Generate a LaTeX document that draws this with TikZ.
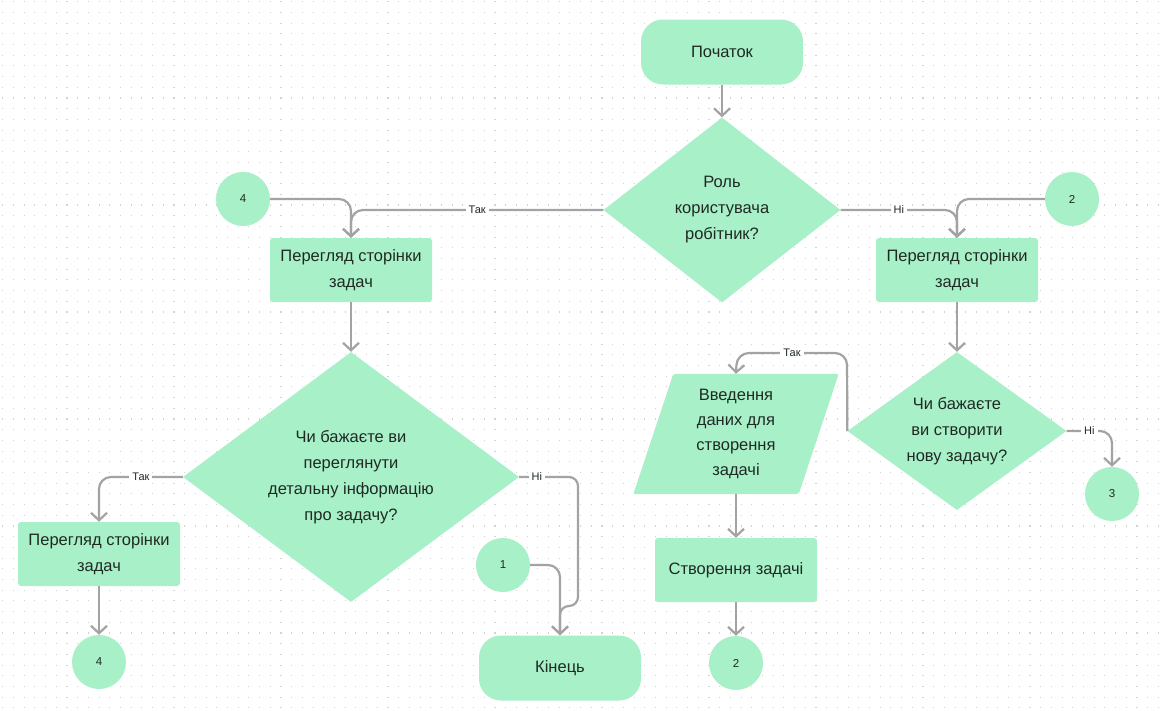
\documentclass[tikz,border=0pt]{standalone}
\usepackage{fontspec}
\setmainfont{Liberation Sans}
\usetikzlibrary{arrows.meta,shapes.geometric}
\definecolor{fillg}{HTML}{A8F0C8}
\definecolor{txt}{HTML}{1F2A24}
\definecolor{con}{HTML}{A3A3A3}
\definecolor{dotc}{HTML}{D2D2D2}
\pgfdeclarelayer{grid}
\pgfdeclarelayer{shape}
\pgfsetlayers{grid,shape,main}
\tikzset{
  box/.style={rectangle, fill=fillg, rounded corners=3pt, minimum width=162pt, minimum height=64pt,
    align=center, inner sep=2pt, font=\fontsize{16.5}{26}\selectfont, text=txt},
  term/.style={box, rounded corners=22pt, minimum height=65pt},
  dec/.style={diamond, fill=fillg, align=center, inner sep=0pt, font=\fontsize{16.5}{26}\selectfont, text=txt},
  conn/.style={circle, fill=fillg, minimum size=54pt, inner sep=0pt, font=\fontsize{11.5}{13}\selectfont, text=txt},
  paratext/.style={rectangle, minimum width=165pt, minimum height=120pt, align=center, inner sep=0pt,
    font=\fontsize{16.5}{25}\selectfont, text=txt},
  link/.style={draw=con, line width=2.2pt, rounded corners=12pt, -{Straight Barb[length=7.5pt,width=16pt]}},
  lbl/.style={fill=white, inner sep=3pt, font=\fontsize{11}{12}\selectfont, text=txt, rounded corners=0pt}
}
\begin{document}
\begin{tikzpicture}[x=1pt,y=-1pt]
\useasboundingbox (0,0) rectangle (1160,710);
\begin{pgfonlayer}{grid}
\fill[white] (0,0) rectangle (1160,710);
\foreach \k in {0,...,66}
  \draw[dotc, line width=1.1pt, dash pattern=on 1.1pt off 9.6pt] (2.2,{1.7+10.7*\k}) -- (1160,{1.7+10.7*\k});
\end{pgfonlayer}

% nodes
\node[term] (start) at (722,52) {Початок};
\node[dec, minimum width=237pt, minimum height=185pt, aspect=1.28] (d1) at (722,210) {Роль\\користувача\\робітник?};
\node[conn] (c4a) at (243,199) {4};
\node[box] (b1) at (351,270) {Перегляд сторінки\\задач};
\node[dec, minimum width=336pt, minimum height=250pt, aspect=1.34] (d2) at (351,477) {Чи бажаєте ви\\переглянути\\детальну інформацію\\про задачу?};
\node[box] (b4) at (99,554) {Перегляд сторінки\\задач};
\node[conn] (c4b) at (99,662) {4};
\node[conn] (c1) at (503,565) {1};
\node[term] (end) at (560,668) {Кінець};
\node[conn] (c2a) at (1072,199) {2};
\node[box] (b2) at (957,270) {Перегляд сторінки\\задач};
\node[dec, minimum width=219pt, minimum height=158pt, aspect=1.386] (d3) at (957,431) {Чи бажаєте\\ви створити\\нову задачу?};
\node[conn] (c3) at (1112,494) {3};
\node[paratext] (para) at (736,434) {Введення\\даних для\\створення\\задачі};
\node[box] (b3) at (736,570) {Створення задачі};
\node[conn] (c2b) at (736,663) {2};
\begin{pgfonlayer}{shape}
\fill[fillg, rounded corners=2pt] ([xshift=20pt]para.north west) -- ([xshift=20pt]para.north east)
  -- ([xshift=-20pt]para.south east) -- ([xshift=-20pt]para.south west) -- cycle;
\end{pgfonlayer}

% connectors
\draw[link] (start.south) -- (d1.north);
\draw[link] (c4a.east) -- (351,199) -- (b1.north);
\draw[link] (d1.west) -- node[lbl]{Так} (351,210) -- (b1.north);
\draw[link] (c2a.west) -- (957,199) -- (b2.north);
\draw[link] (d1.east) -- node[lbl]{Ні} (957,210) -- (b2.north);
\draw[link] (b1.south) -- (d2.north);
\draw[link] (b2.south) -- (d3.north);
\draw[link] (d2.west) -- node[lbl]{Так} (99,477) -- (b4.north);
\draw[link] (b4.south) -- (c4b.north);
\draw[link, rounded corners=9pt] (d2.east) -- node[lbl, pos=0.3]{Ні} (578,477) -- (578,606) -- (560,606) -- (end.north);
\draw[link] (c1.east) -- (560,565) -- (end.north);
\draw[link] (d3.west) -- (847,353) -- node[lbl]{Так} (737,353) -- (para.north);
\draw[link] (d3.east) -- node[lbl]{Ні} (1112,431) -- (c3.north);
\draw[link] (para.south) -- (b3.north);
\draw[link] (b3.south) -- (c2b.north);
\end{tikzpicture}
\end{document}
